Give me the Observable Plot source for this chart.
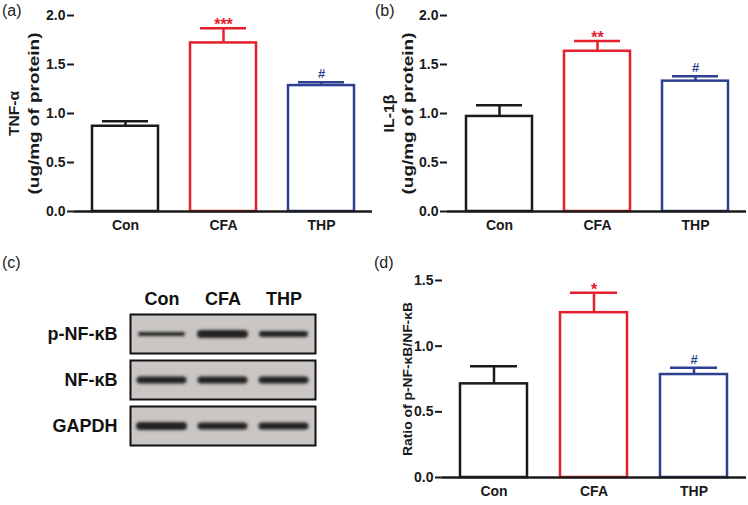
<!DOCTYPE html>
<html>
<head>
<meta charset="utf-8">
<script src="https://cdn.jsdelivr.net/npm/d3@7"></script>
<script src="https://cdn.jsdelivr.net/npm/@observablehq/plot@0.6"></script>
<style>
  body { margin: 0; background: #fff; }
  #fig { position: relative; width: 748px; height: 505px; overflow: hidden; background: #fff; }
  .panel { position: absolute; }
  .plabel { position: absolute; font: 16px "Liberation Sans", Arial, sans-serif; color: #222; line-height: 1; }
</style>
</head>
<body>
<div id="fig"></div>
<script>
// ---------- data ----------
const groups = ["Con", "CFA", "THP"];
const groupColors = ["#1a1a1a", "#e3202c", "#2d3f8e"];

const tnfMean = [0.87, 1.72, 1.285];
const tnfErr = [0.05, 0.15, 0.035];
const tnfSig = ["", "***", "#"];

const il1bMean = [0.97, 1.635, 1.33];
const il1bErr = [0.115, 0.105, 0.05];
const il1bSig = ["", "**", "#"];

const ratioMean = [0.713, 1.255, 0.784];
const ratioErr = [0.134, 0.152, 0.051];
const ratioSig = ["", "*", "#"];

const yTicksAB = [0, 0.5, 1.0, 1.5, 2.0];
const yTicksD = [0, 0.5, 1.0, 1.5];

const blotRows = ["p-NF-κB", "NF-κB", "GAPDH"];
const blotBand = [[4, 8, 6], [7, 7, 7], [8, 7, 7]]; // band thickness (intensity)

const FONT = '"Liberation Sans", Arial, Helvetica, sans-serif';
const fig = document.getElementById("fig");

function place(node, left, top) {
  node.classList.add("panel");
  node.style.left = left + "px";
  node.style.top = top + "px";
  fig.appendChild(node);
}
function label(txt, left, top) {
  const d = document.createElement("div");
  d.className = "plabel";
  d.textContent = txt;
  d.style.left = left + "px";
  d.style.top = top + "px";
  fig.appendChild(d);
}

function barChart(o) {
  const data = groups.map((g, i) => ({
    g, m: o.means[i], top: o.means[i] + o.errs[i], s: o.sigs[i], c: groupColors[i]
  }));
  const marks = [
    Plot.barY(data, {x: "g", y: "m", fill: "white", stroke: "c", strokeWidth: 2.5}),
    Plot.ruleX(data, {x: "g", y1: "m", y2: "top", stroke: "c", strokeWidth: 2.5}),
    Plot.tickY(data, {x: "g", y: "top", stroke: "c", strokeWidth: 2.5, insetLeft: 10, insetRight: 10}),
    Plot.text(data.filter(d => d.s.startsWith("*")), {x: "g", y: "top", text: "s", fill: "c", fontSize: 16, lineAnchor: "bottom", dy: 2}),
    Plot.text(data.filter(d => d.s === "#"), {x: "g", y: "top", text: "s", fill: "c", fontSize: 13, lineAnchor: "bottom", dy: -4}),
    Plot.axisY({ticks: o.ticks, tickFormat: d3.format(".1f"), tickSize: 7, tickPadding: 2, strokeWidth: 2, line: true, label: null, fontSize: 14}),
    Plot.axisX({tickSize: 0, tickPadding: 9, label: null, fontSize: 14}),
    Plot.ruleY([0], {strokeWidth: 2.5, stroke: "#1a1a1a"}),
  ];
  o.titles.forEach(t => marks.push(Plot.text([t.text], {frameAnchor: "left", textAnchor: "middle", rotate: -90, dx: t.dx, fontSize: t.fs, fill: "#1a1a1a"})));
  const svg = Plot.plot({
    width: 374, height: o.height,
    marginLeft: o.ml, marginRight: 2, marginTop: o.mt, marginBottom: o.mb,
    style: {fontFamily: FONT, fontWeight: "bold", fontSize: "13px", color: "#1a1a1a", background: "transparent"},
    x: {domain: groups, paddingInner: 0.327, paddingOuter: 0.18, axis: null},
    y: {domain: o.yDomain, axis: null},
    marks
  });
  return svg;
}

// stretch a rotated title along its own direction to a target length (after it is in the DOM)
function stretchTitles(svg, titles) {
  titles.forEach(t => {
    if (!t.len) return;
    svg.querySelectorAll("text").forEach(el => {
      if (el.textContent === t.text) {
        const L = el.getComputedTextLength();
        if (L > 0) {
          const k = t.len / L;
          el.setAttribute("transform", (el.getAttribute("transform") || "") + ` scale(${k},1)`);
        }
      }
    });
  });
}

const titlesA = [{text: "TNF-α", dx: -60, fs: 15, len: 45}, {text: "(ug/mg of protein)", dx: -40, fs: 15, len: 162}];
const titlesB = [{text: "IL-1β", dx: -58, fs: 15, len: 38}, {text: "(ug/mg of protein)", dx: -39, fs: 15, len: 162}];
const titlesD = [{text: "Ratio of p-NF-κB/NF-κB", dx: -35, fs: 12.5, len: 154}];

// (a)
const svgA = barChart({
  means: tnfMean, errs: tnfErr, sigs: tnfSig, ticks: yTicksAB, yDomain: [0, 2],
  height: 240, ml: 74, mt: 15, mb: 29, titles: titlesA
});
place(svgA, 0, 0); stretchTitles(svgA, titlesA);

// (b)
const svgB = barChart({
  means: il1bMean, errs: il1bErr, sigs: il1bSig, ticks: yTicksAB, yDomain: [0, 2],
  height: 240, ml: 73, mt: 15, mb: 29, titles: titlesB
});
place(svgB, 374, 0); stretchTitles(svgB, titlesB);

// (d)
const svgD = barChart({
  means: ratioMean, errs: ratioErr, sigs: ratioSig, ticks: yTicksD, yDomain: [0, 1.5],
  height: 255, ml: 68, mt: 30, mb: 28, titles: titlesD
});
place(svgD, 374, 250); stretchTitles(svgD, titlesD);

// (c) western blot
const blotData = [];
blotRows.forEach((r, i) => groups.forEach((g, j) => blotData.push({row: r, lane: g, t: blotBand[i][j]})));
const blot = Plot.plot({
  width: 374, height: 255,
  marginLeft: 130, marginRight: 59, marginTop: 64, marginBottom: 59,
  style: {fontFamily: FONT, fontWeight: "bold", fontSize: "18px", color: "#111", background: "transparent"},
  x: {domain: groups, padding: 0, axis: "top", tickSize: 0, tickPadding: 10, label: null},
  y: {domain: [-1, 1], axis: null},
  fy: {domain: blotRows, paddingInner: 0.15, paddingOuter: 0, axis: "left", tickSize: 0, tickPadding: 13, label: null},
  facet: {data: blotData, y: "row"},
  marks: [
    Plot.frame({fill: "#c9c6c3", stroke: "#111", strokeWidth: 2}),
    Plot.tickY(blotData, {x: "lane", y: () => 0, strokeWidth: "t", stroke: "#222", insetLeft: 9, insetRight: 9, strokeLinecap: "round"})
  ]
});
{
  const ns = "http://www.w3.org/2000/svg";
  const defs = document.createElementNS(ns, "defs");
  const f = document.createElementNS(ns, "filter");
  f.setAttribute("id", "bandblur");
  f.setAttribute("x", "-20%"); f.setAttribute("y", "-200%");
  f.setAttribute("width", "140%"); f.setAttribute("height", "500%");
  const b = document.createElementNS(ns, "feGaussianBlur");
  b.setAttribute("stdDeviation", "1.4");
  f.appendChild(b); defs.appendChild(f);
  blot.insertBefore(defs, blot.firstChild);
  blot.querySelectorAll('g[aria-label="tick"]').forEach(g => g.setAttribute("filter", "url(#bandblur)"));
}
place(blot, 0, 250);

label("(a)", 2, 3);
label("(b)", 375, 3);
label("(c)", 2, 255);
label("(d)", 374, 255);
</script>
</body>
</html>
